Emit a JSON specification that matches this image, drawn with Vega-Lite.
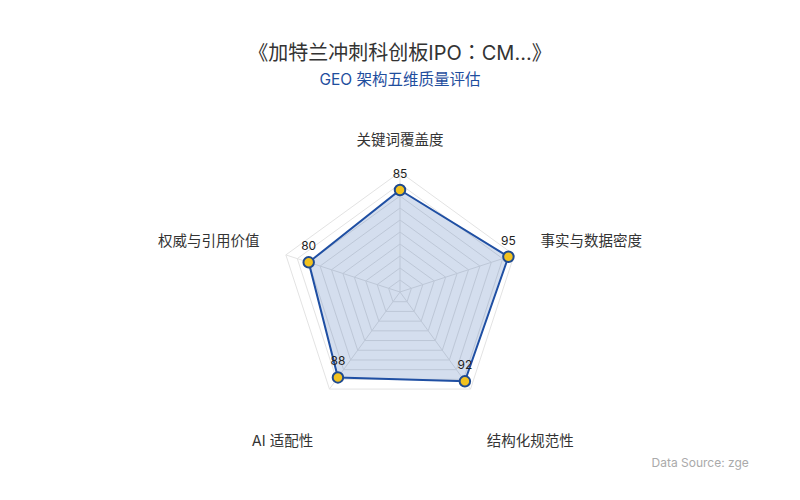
{
  "$schema": "https://vega.github.io/schema/vega-lite/v6.json",
  "width": 800,
  "height": 400,
  "autosize": "none",
  "padding": {"top": 100, "left": 0, "right": 0, "bottom": 0},
  "background": "#ffffff",
  "config": {
    "view": {"stroke": null},
    "font": "Inter, Noto Sans CJK SC, sans-serif"
  },
  "title": {
    "text": "《加特兰冲刺科创板IPO：CM...》",
    "subtitle": "GEO 架构五维质量评估",
    "anchor": "middle",
    "fontSize": 20,
    "fontWeight": "normal",
    "color": "#333333",
    "subtitleFontSize": 15.5,
    "subtitleColor": "#1f4e9e",
    "subtitlePadding": 9,
    "offset": 12,
    "font": "Inter, Noto Sans CJK JP, sans-serif",
    "subtitleFont": "Inter, Noto Sans CJK SC, sans-serif"
  },
  "datasets": {
    "scores": [
      {"dim": "关键词覆盖度", "score": 85, "k": 0},
      {"dim": "事实与数据密度", "score": 95, "k": 1},
      {"dim": "结构化规范性", "score": 92, "k": 2},
      {"dim": "AI 适配性", "score": 88, "k": 3},
      {"dim": "权威与引用价值", "score": 80, "k": 4}
    ],
    "rings": [
      {"level": 10, "ks": [0, 1, 2, 3, 4]},
      {"level": 20, "ks": [0, 1, 2, 3, 4]},
      {"level": 30, "ks": [0, 1, 2, 3, 4]},
      {"level": 40, "ks": [0, 1, 2, 3, 4]},
      {"level": 50, "ks": [0, 1, 2, 3, 4]},
      {"level": 60, "ks": [0, 1, 2, 3, 4]},
      {"level": 70, "ks": [0, 1, 2, 3, 4]},
      {"level": 80, "ks": [0, 1, 2, 3, 4]},
      {"level": 90, "ks": [0, 1, 2, 3, 4]},
      {"level": 100, "ks": [0, 1, 2, 3, 4]}
    ]
  },
  "encoding": {
    "x": {
      "field": "px", "type": "quantitative",
      "scale": {"domain": [-333.333, 333.333], "nice": false, "zero": false},
      "axis": {
        "orient": "bottom", "domain": false, "ticks": false, "labels": false, "grid": false,
        "title": "Data Source: zge", "titleX": 651, "titleY": -38, "titleAlign": "left",
        "titleBaseline": "middle", "titleColor": "#aaaaaa", "titleFontSize": 12,
        "titleFontWeight": "normal", "titleFont": "Inter, sans-serif"
      }
    },
    "y": {
      "field": "py", "type": "quantitative",
      "scale": {"domain": [-173.333, 160], "nice": false, "zero": false},
      "axis": null
    }
  },
  "layer": [
    {
      "data": {"name": "rings"},
      "transform": [
        {"flatten": ["ks"], "as": ["k"]},
        {"calculate": "datum.level * sin(datum.k * 2 * PI / 5)", "as": "px"},
        {"calculate": "datum.level * cos(datum.k * 2 * PI / 5)", "as": "py"}
      ],
      "mark": {"type": "line", "interpolate": "linear-closed", "stroke": "#e3e3e3", "strokeWidth": 1},
      "encoding": {
        "detail": {"field": "level", "type": "nominal"},
        "order": {"field": "k", "type": "quantitative"}
      }
    },
    {
      "data": {"name": "scores"},
      "transform": [
        {"calculate": "0", "as": "px"},
        {"calculate": "0", "as": "py"},
        {"calculate": "100 * sin(datum.k * 2 * PI / 5)", "as": "ex"},
        {"calculate": "100 * cos(datum.k * 2 * PI / 5)", "as": "ey"}
      ],
      "mark": {"type": "rule", "stroke": "#e3e3e3", "strokeWidth": 1},
      "encoding": {
        "x2": {"field": "ex"},
        "y2": {"field": "ey"}
      }
    },
    {
      "data": {"name": "scores"},
      "transform": [
        {"calculate": "datum.score * sin(datum.k * 2 * PI / 5)", "as": "px"},
        {"calculate": "datum.score * cos(datum.k * 2 * PI / 5)", "as": "py"}
      ],
      "mark": {"type": "line", "interpolate": "linear-closed", "stroke": "#1f4fa3", "strokeWidth": 2, "fill": "#2a5caa", "fillOpacity": 0.2},
      "encoding": {
        "order": {"field": "k", "type": "quantitative"}
      }
    },
    {
      "data": {"name": "scores"},
      "transform": [
        {"calculate": "datum.score * sin(datum.k * 2 * PI / 5)", "as": "px"},
        {"calculate": "datum.score * cos(datum.k * 2 * PI / 5)", "as": "py"}
      ],
      "mark": {"type": "point", "filled": true, "fill": "#f2c21f", "stroke": "#1f4a8f", "strokeWidth": 2, "size": 110, "opacity": 1}
    },
    {
      "data": {"name": "scores"},
      "transform": [
        {"calculate": "datum.score * sin(datum.k * 2 * PI / 5)", "as": "px"},
        {"calculate": "datum.score * cos(datum.k * 2 * PI / 5)", "as": "py"}
      ],
      "mark": {"type": "text", "baseline": "bottom", "dy": -9, "fontSize": 12, "fill": "#222222"},
      "encoding": {"text": {"field": "score", "type": "quantitative"}}
    },
    {
      "data": {"name": "scores"},
      "transform": [
        {"filter": "datum.k == 0"},
        {"calculate": "123 * sin(datum.k * 2 * PI / 5)", "as": "px"},
        {"calculate": "123 * cos(datum.k * 2 * PI / 5)", "as": "py"}
      ],
      "mark": {"type": "text", "align": "center", "baseline": "bottom", "dy": 4, "fontSize": 14.5, "fill": "#333333"},
      "encoding": {"text": {"field": "dim", "type": "nominal"}}
    },
    {
      "data": {"name": "scores"},
      "transform": [
        {"filter": "datum.k == 1"},
        {"calculate": "123 * sin(datum.k * 2 * PI / 5)", "as": "px"},
        {"calculate": "123 * cos(datum.k * 2 * PI / 5)", "as": "py"}
      ],
      "mark": {"type": "text", "align": "left", "baseline": "middle", "dy": -4, "fontSize": 14.5, "fill": "#333333"},
      "encoding": {"text": {"field": "dim", "type": "nominal"}}
    },
    {
      "data": {"name": "scores"},
      "transform": [
        {"filter": "datum.k == 4"},
        {"calculate": "123 * sin(datum.k * 2 * PI / 5)", "as": "px"},
        {"calculate": "123 * cos(datum.k * 2 * PI / 5)", "as": "py"}
      ],
      "mark": {"type": "text", "align": "right", "baseline": "middle", "dy": -4, "fontSize": 14.5, "fill": "#333333"},
      "encoding": {"text": {"field": "dim", "type": "nominal"}}
    },
    {
      "data": {"name": "scores"},
      "transform": [
        {"filter": "datum.k == 2"},
        {"calculate": "123 * sin(datum.k * 2 * PI / 5)", "as": "px"},
        {"calculate": "123 * cos(datum.k * 2 * PI / 5)", "as": "py"}
      ],
      "mark": {"type": "text", "align": "left", "baseline": "middle", "dy": 31, "fontSize": 14.5, "fill": "#333333"},
      "encoding": {"text": {"field": "dim", "type": "nominal"}}
    },
    {
      "data": {"name": "scores"},
      "transform": [
        {"filter": "datum.k == 3"},
        {"calculate": "123 * sin(datum.k * 2 * PI / 5)", "as": "px"},
        {"calculate": "123 * cos(datum.k * 2 * PI / 5)", "as": "py"}
      ],
      "mark": {"type": "text", "align": "right", "baseline": "middle", "dy": 31, "fontSize": 14.5, "fill": "#333333"},
      "encoding": {"text": {"field": "dim", "type": "nominal"}}
    }
  ]
}
